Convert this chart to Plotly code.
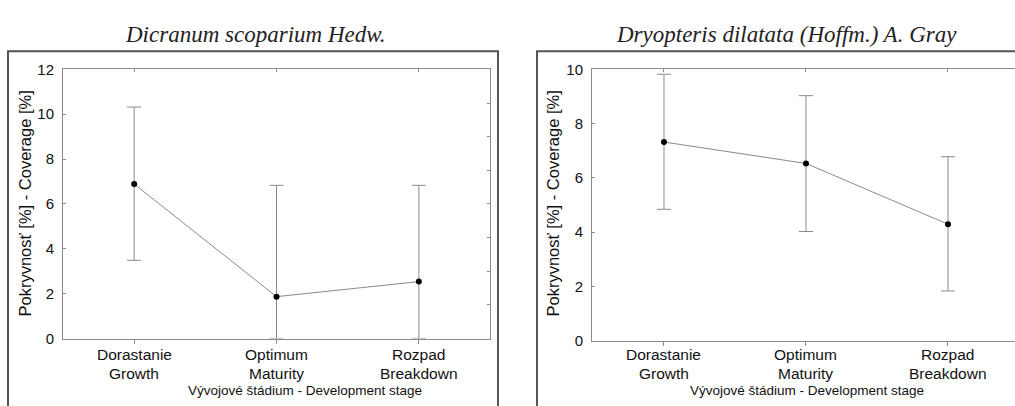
import plotly.graph_objects as go

W, H = 1015, 406

stage_sk = ["Dorastanie", "Optimum", "Rozpad"]
stage_en = ["Growth", "Maturity", "Breakdown"]

dicranum_mean = [6.89, 1.87, 2.54]
dicranum_upper = [10.32, 6.83, 6.83]
dicranum_lower = [3.49, 0.01, 0.01]

dryopteris_mean = [7.32, 6.53, 4.29]
dryopteris_upper = [9.82, 9.03, 6.78]
dryopteris_lower = [4.84, 4.02, 1.83]

title_left = "Dicranum scoparium Hedw."
title_right = "Dryopteris dilatata (Hoffm.) A. Gray"
y_title = "Pokryvnosť [%] - Coverage [%]"
x_title = "Vývojové štádium - Development stage"

GRAY = "#8a8a8a"
SANS = "Liberation Sans, Arial, sans-serif"
SERIF = "Liberation Serif, Times New Roman, serif"


def px_x(p):
    return p / W


def px_y(p):
    return 1 - p / H


def trace(mean, upper, lower, xa, ya):
    return go.Scatter(
        x=stage_sk, y=mean, xaxis=xa, yaxis=ya, mode="lines+markers",
        line=dict(color=GRAY, width=1),
        marker=dict(color="black", size=6),
        error_y=dict(type="data", symmetric=False,
                     array=[u - m for u, m in zip(upper, mean)],
                     arrayminus=[m - l for m, l in zip(mean, lower)],
                     color=GRAY, thickness=1, width=7),
        showlegend=False, hoverinfo="skip",
    )


fig = go.Figure()
fig.add_trace(trace(dicranum_mean, dicranum_upper, dicranum_lower, "x", "y"))
fig.add_trace(trace(dryopteris_mean, dryopteris_upper, dryopteris_lower, "x2", "y2"))
# invisible traces to anchor the tick-only overlay axes
fig.add_trace(go.Scatter(x=[None], y=[None], xaxis="x3", yaxis="y3", showlegend=False, hoverinfo="skip"))
fig.add_trace(go.Scatter(x=[None], y=[None], xaxis="x4", yaxis="y2", showlegend=False, hoverinfo="skip"))

left_dom = [px_x(63), px_x(490)]
right_dom = [px_x(592), 1.0]
ydom_l = [px_y(344), px_y(63)]
ydom_r = [px_y(346), px_y(63)]

tickfont = dict(family=SANS, size=15, color="#111")
catfont = dict(family=SANS, size=15.5, color="#111")

common_x = dict(type="category", showgrid=False, zeroline=False, showline=True, linecolor=GRAY,
                linewidth=1, mirror=True, ticks="outside", ticklen=4, tickcolor=GRAY,
                showticklabels=False)
common_y = dict(showgrid=False, zeroline=False, showline=True, linecolor=GRAY, linewidth=1,
                ticks="inside", ticklen=3, tickcolor=GRAY, tickfont=tickfont, dtick=2,
                ticklabelstandoff=5)

fig.update_layout(
    width=W, height=H, margin=dict(l=0, r=0, t=0, b=0),
    paper_bgcolor="white", plot_bgcolor="white",
    xaxis=dict(domain=left_dom, range=[-0.5, 2.5], anchor="y", **common_x),
    yaxis=dict(domain=ydom_l, range=[0, 12], anchor="x", mirror=True, **common_y),
    xaxis2=dict(domain=right_dom, range=[-0.507, 2.472], anchor="y2", **common_x),
    yaxis2=dict(domain=ydom_r, range=[0, 10], anchor="x2", mirror=False, **common_y),
    xaxis3=dict(overlaying="x", side="top", anchor="y", range=[-0.5, 2.5], tickvals=[0, 1, 2],
                showticklabels=False, ticks="inside", ticklen=3, tickcolor=GRAY,
                showgrid=False, zeroline=False, showline=False),
    yaxis3=dict(overlaying="y", side="right", anchor="x", range=[0, 12], dtick=1.5,
                showticklabels=False, ticks="inside", ticklen=3, tickcolor=GRAY,
                showgrid=False, zeroline=False, showline=False),
    xaxis4=dict(overlaying="x2", side="top", anchor="y2", range=[-0.507, 2.472], tickvals=[0, 1, 2],
                showticklabels=False, ticks="inside", ticklen=3, tickcolor=GRAY,
                showgrid=False, zeroline=False, showline=False),
)

# category labels (two lines each), placed through each panel's x axis
for xr in ("x", "x2"):
    for sk, en in zip(stage_sk, stage_en):
        fig.add_annotation(x=sk, xref=xr, y=px_y(361), yref="paper", text=sk, showarrow=False,
                           font=catfont, xanchor="center", yanchor="middle")
        fig.add_annotation(x=sk, xref=xr, y=px_y(380), yref="paper", text=en, showarrow=False,
                           font=catfont, xanchor="center", yanchor="middle")

frame = dict(color="#555555", width=2)
fig.add_shape(type="rect", xref="paper", yref="paper", x0=px_x(8), x1=px_x(498),
              y0=-0.2, y1=px_y(44), line=frame, layer="below")
fig.add_shape(type="rect", xref="paper", yref="paper", x0=px_x(537), x1=1.2,
              y0=-0.2, y1=px_y(44), line=frame, layer="below")

tfont = dict(family=SERIF, size=23, color="#222")
fig.add_annotation(x=px_x(256), y=px_y(27), xref="paper", yref="paper", text="<i>" + title_left + "</i>",
                   showarrow=False, font=tfont, xanchor="center", yanchor="middle")
fig.add_annotation(x=px_x(786), y=px_y(27), xref="paper", yref="paper", text="<i>" + title_right + "</i>",
                   showarrow=False, font=tfont, xanchor="center", yanchor="middle")

yfont = dict(family=SANS, size=16.5, color="#111")
fig.add_annotation(x=px_x(24), y=px_y(203), xref="paper", yref="paper", text=y_title, textangle=-90,
                   showarrow=False, font=yfont, xanchor="center", yanchor="middle")
fig.add_annotation(x=px_x(552), y=px_y(203), xref="paper", yref="paper", text=y_title, textangle=-90,
                   showarrow=False, font=yfont, xanchor="center", yanchor="middle")

afont = dict(family=SANS, size=13.5, color="#111")
fig.add_annotation(x=px_x(305), y=px_y(398), xref="paper", yref="paper", text=x_title,
                   showarrow=False, font=afont, xanchor="center", yanchor="middle")
fig.add_annotation(x=px_x(807), y=px_y(398), xref="paper", yref="paper", text=x_title,
                   showarrow=False, font=afont, xanchor="center", yanchor="middle")

fig.write_html("out.html", config={"displayModeBar": False},
               post_script="document.body.style.margin='0px';document.body.style.overflow='hidden';")
